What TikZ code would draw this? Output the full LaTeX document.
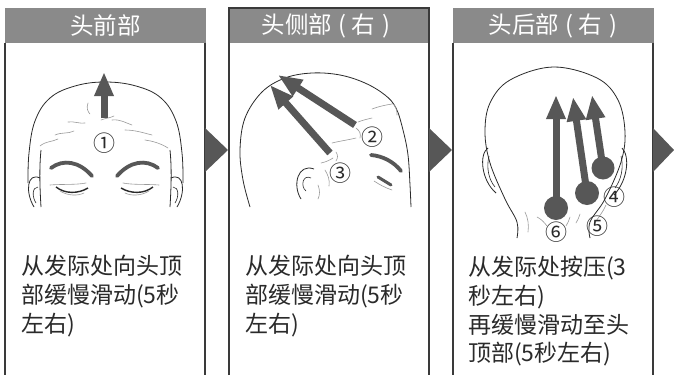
\documentclass[tikz,border=0pt]{standalone}
\usepackage{fontspec}
\setmainfont{Noto Sans CJK SC}
\usetikzlibrary{arrows.meta}
\definecolor{hdrgray}{HTML}{8A8A8A}
\definecolor{framegray}{HTML}{3A3A3A}
\definecolor{markgray}{HTML}{575757}
\definecolor{wispgray}{HTML}{9A9A9A}
\definecolor{inkgray}{HTML}{2A2A2A}
\begin{document}
\begin{tikzpicture}[x=1pt,y=-1pt,
  hdrbox/.style={fill=hdrgray},
  frameline/.style={draw=framegray,line width=1.2pt},
  nexttri/.style={fill=markgray},
  headline/.style={draw=inkgray,line width=0.8pt},
  hairline/.style={draw=wispgray,line width=0.6pt,line cap=round},
  brow/.style={draw=markgray,line width=3.8pt,line cap=round},
  push/.style={draw=markgray,line width=7pt,-{Triangle[width=18pt,length=24pt]}},
  pushdot/.style={fill=markgray},
  htext/.style={text=white,font=\fontsize{23.5}{23.5}\selectfont,inner sep=0pt},
  btext/.style={anchor=base west,font=\fontsize{23}{23}\selectfont,inner sep=0pt,text=inkgray},
  num/.style={font=\fontsize{22}{22}\selectfont,inner sep=0pt,text=inkgray}
]
\useasboundingbox (0,0) rectangle (674,375);
\fill[white] (0,0) rectangle (674,375);

% ---------- panel frames ----------
\fill[hdrbox] (5,8) rectangle (205.5,42.5);
\draw[frameline] (5,42.5) -- (5,375);
\draw[frameline] (205,42.5) -- (205,375);

\fill[hdrbox] (229,8) rectangle (429.5,42.5);
\draw[frameline] (229,375) -- (229,8) -- (429,8) -- (429,375);

\fill[hdrbox] (453,8) rectangle (653.5,42.5);
\draw[frameline] (453,42.5) -- (453,375);
\draw[frameline] (653,42.5) -- (653,375);

% ---------- step triangles ----------
\fill[nexttri] (205,128) -- (228,150) -- (205,172) -- cycle;
\fill[nexttri] (429,128) -- (452,150) -- (429,172) -- cycle;
\fill[nexttri] (653,128) -- (674,150) -- (653,172) -- cycle;

% ---------- headers ----------
\node[htext] (h1) at (105.5,25.5) {头前部};
\node[htext] (h2) at (326,25.5) {头侧部\hspace{6pt}(\hspace{6pt}右\hspace{7pt})};
\node[htext] (h3) at (553,25.5) {头后部\hspace{6pt}(\hspace{6pt}右\hspace{7pt})};

% ---------- panel 1: front of head ----------
\draw[headline] plot[smooth,tension=0.65] coordinates {(28,183) (29,153) (35,121) (50,98) (75,86) (105,82) (136,86) (161,98) (176,121) (182,153) (183,183)};
\draw[headline] (41,150) .. controls (39,170) and (40,190) .. (41,207);
\draw[headline] (170,150) .. controls (172,170) and (171,190) .. (170,207);
\draw[headline] (40,178) .. controls (27,172) and (25,192) .. (34,207);
\draw[headline,line width=0.6pt] (38,187) .. controls (32,187) and (32,197) .. (36,203);
\draw[headline] (171,178) .. controls (184,172) and (186,192) .. (177,207);
\draw[headline,line width=0.6pt] (173,187) .. controls (179,187) and (179,197) .. (175,203);
% brows
\draw[brow] (51,168) .. controls (63,159) and (79,161) .. (92,176);
\draw[brow] (158,168) .. controls (146,159) and (130,161) .. (117,176);
% closed eyes
\draw[hairline] (50,185) .. controls (62,184) and (76,185) .. (86,183);
\draw[headline,line width=1.4pt] (56,187) .. controls (65,194) and (78,194) .. (88,188);
\draw[hairline] (60,191) .. controls (68,196) and (78,196) .. (84,193);
\draw[hairline] (159,185) .. controls (147,184) and (133,185) .. (123,183);
\draw[headline,line width=1.4pt] (153,187) .. controls (144,194) and (131,194) .. (121,188);
\draw[hairline] (149,191) .. controls (141,196) and (131,196) .. (125,193);
% hair wisps
\draw[hairline] (88,103) .. controls (86,108) and (88,112) .. (90,114);
\draw[hairline] (68,122) .. controls (74,121) and (80,124) .. (85,123);
\draw[hairline] (55,135) .. controls (62,132) and (68,134) .. (74,131);
\draw[hairline] (40,146) .. controls (46,141) and (52,142) .. (58,139);
\draw[hairline] (112,120) .. controls (120,119) and (126,123) .. (132,125);
\draw[hairline] (125,130) .. controls (135,130) and (144,133) .. (152,135);
\draw[hairline] (145,140) .. controls (152,141) and (160,143) .. (168,148);
\draw[hairline] (101,120) .. controls (106,118) and (110,118) .. (114,116);
% arrow 1
\draw[push] (104,118) -- (104,72);
\node[num] (n1) at (104,143) {①};

% ---------- panel 2: side of head ----------
\draw[headline] plot[smooth,tension=0.6] coordinates {(250,207) (243,180) (240,150) (245,118) (262,92) (285,78) (312,73) (340,75) (365,83) (385,95) (396,108) (403,130) (408,155) (410,185) (411,207)};
% ear
\draw[headline] (314,169) .. controls (298,163) and (292,185) .. (301,199);
\draw[headline,line width=0.6pt] (311,178) .. controls (303,174) and (300,186) .. (306,191);
% brow and eye
\draw[brow] (371,155) .. controls (383,156) and (394,162) .. (401,171);
\draw[brow,line width=3pt] (378,177) -- (391,185);
\draw[hairline] (374,181) .. controls (380,185) and (386,188) .. (392,190);
% hair wisps
\draw[hairline] (392,103) .. controls (396,106) and (397,110) .. (397,115);
\draw[hairline] (372,109) .. controls (380,106) and (386,105) .. (392,104);
\draw[hairline] (358,122) .. controls (363,120) and (368,119) .. (372,118);
\draw[hairline] (332,143) .. controls (340,141) and (348,140) .. (356,138);
\draw[hairline] (356,128) .. controls (360,131) and (361,134) .. (360,138);
\draw[hairline] (336,152) .. controls (338,155) and (338,158) .. (336,161);
\draw[hairline] (325,170) .. controls (328,175) and (330,180) .. (329,186);
\draw[hairline] (321,163) .. controls (326,162) and (330,160) .. (333,158);
\draw[hairline] (318,185) .. controls (320,190) and (320,195) .. (318,199);
% arrows 2 and 3
\draw[push] (355,125) -- (278,75);
\draw[push] (330,153) -- (270,85);
\node[num] (n2) at (372,137) {②};
\node[num] (n3) at (340,173) {③};

% ---------- panel 3: back of head ----------
\draw[headline] plot[smooth,tension=0.6] coordinates {(517,238) (517,222) (505,199) (490,163) (485,132) (490,103) (510,80) (553,67) (597,78) (618,100) (625,132) (621,162) (605,199) (590,222) (590,238)};
% ears
\draw[headline] (488,148) .. controls (479,154) and (481,180) .. (496,193);
\draw[headline,line width=0.6pt] (489,156) .. controls (486,168) and (489,180) .. (495,187);
\draw[headline] (622,148) .. controls (630,156) and (628,180) .. (614,195);
\draw[headline,line width=0.6pt] (621,156) .. controls (624,168) and (621,180) .. (615,188);
% neck wisps
\draw[hairline] (525,212) .. controls (528,218) and (529,225) .. (528,232);
\draw[hairline] (537,217) .. controls (541,219) and (544,222) .. (547,226);
\draw[hairline] (570,217) .. controls (569,220) and (568,223) .. (566,226);
\draw[hairline] (580,214) .. controls (579,217) and (578,220) .. (576,223);
\draw[hairline] (606,205) .. controls (603,212) and (598,218) .. (594,224);
% dots and arrows 4,5,6
\fill[pushdot] (556,208) circle (12pt);
\draw[push] (556,208) -- (556,95);
\fill[pushdot] (587,193) circle (12pt);
\draw[push] (587,193) -- (573,97);
\fill[pushdot] (603,168) circle (11.5pt);
\draw[push] (603,168) -- (592,95);
\node[num] (n4) at (614,197) {④};
\node[num] (n5) at (597,226) {⑤};
\node[num] (n6) at (556,232) {⑥};

% ---------- body texts ----------
\node[btext] (a1) at (21,274) {从发际处向头顶};
\node[btext] (a2) at (21,303) {部缓慢滑动(5秒};
\node[btext] (a3) at (21,332) {左右)};

\node[btext] (b1) at (245,274) {从发际处向头顶};
\node[btext] (b2) at (245,303) {部缓慢滑动(5秒};
\node[btext] (b3) at (245,332) {左右)};

\node[btext] (c1) at (468,275) {从发际处按压(3};
\node[btext] (c2) at (468,304) {秒左右)};
\node[btext] (c3) at (468,333) {再缓慢滑动至头};
\node[btext] (c4) at (468,361) {顶部(5秒左右)};
\end{tikzpicture}
\end{document}
